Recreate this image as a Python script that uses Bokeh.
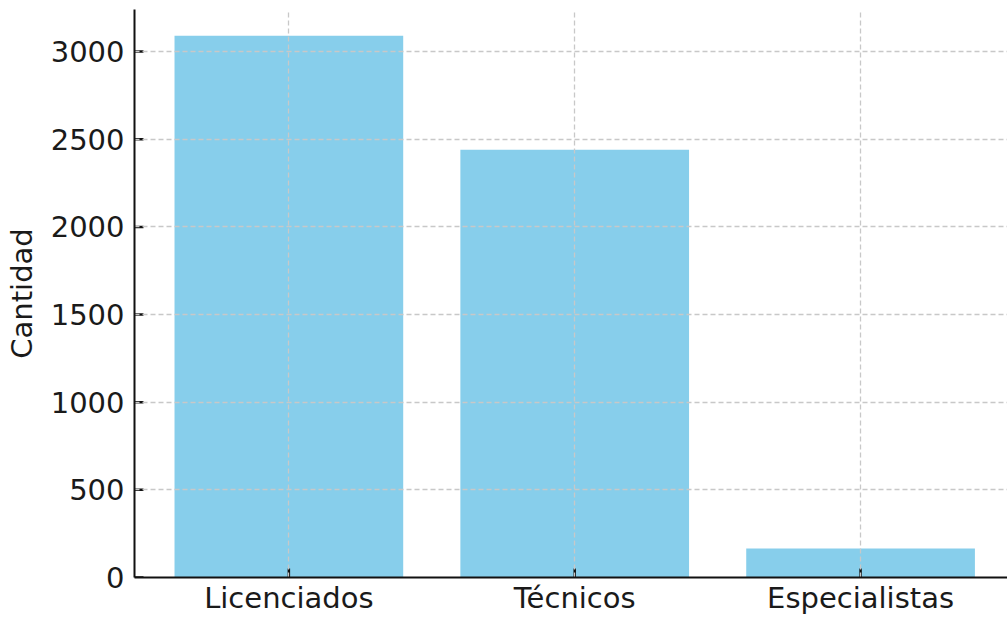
from bokeh.plotting import figure
from bokeh.models import FixedTicker, Range1d
from bokeh.embed import file_html
from bokeh.resources import INLINE

categories = ["Licenciados", "Técnicos", "Especialistas"]
cantidad = [3090, 2440, 165]
y_ticks = [0, 500, 1000, 1500, 2000, 2500, 3000]

xs = list(range(len(categories)))

X0, X1 = -0.54, 2.514
Y0, Y1 = 0, 3240
W, H = 1007, 617
BL, BT, BB = 134, 9, 40
TICK_PX = 9

p = figure(width=W, height=H, output_backend="svg", toolbar_location=None,
           x_range=Range1d(X0, X1), y_range=Range1d(Y0, Y1),
           min_border_left=BL, min_border_right=0, min_border_top=BT, min_border_bottom=BB)

p.vbar(x=xs, top=cantidad, width=0.8, color="#87CEEB", line_color=None)

FONT = "DejaVu Sans"
p.xaxis.ticker = FixedTicker(ticks=xs)
p.xaxis.major_label_overrides = {i: c for i, c in enumerate(categories)}
p.yaxis.ticker = FixedTicker(ticks=y_ticks)
p.yaxis.axis_label = "Cantidad"

for ax in (p.xaxis, p.yaxis):
    ax.major_label_text_font = FONT
    ax.major_label_text_font_size = "29px"
    ax.major_label_text_color = "#1a1a1a"
    ax.axis_label_text_font = FONT
    ax.axis_label_text_font_size = "29px"
    ax.axis_label_text_font_style = "normal"
    ax.axis_label_text_color = "#1a1a1a"
    ax.axis_line_color = "#111111"
    ax.axis_line_width = 2
    ax.major_tick_line_color = None
    ax.major_tick_in = 0
    ax.major_tick_out = 0
    ax.minor_tick_line_color = None

p.xaxis.major_label_standoff = 3
p.yaxis.major_label_standoff = 10
p.yaxis.axis_label_standoff = 9

for g in (p.xgrid, p.ygrid):
    g.grid_line_color = "#c8c8c8"
    g.grid_line_dash = "5 3"
    g.grid_line_width = 1.3
    g.level = "glyph"

# inward tick marks (matplotlib direction="in"), length in pixels converted to data units
frame_w = W - BL
frame_h = H - BT - BB
dx = TICK_PX * (X1 - X0) / frame_w
dy = TICK_PX * (Y1 - Y0) / frame_h
tick_y_x0 = [X0] * len(y_ticks)
tick_y_x1 = [X0 + dx] * len(y_ticks)
tick_x_y0 = [Y0] * len(xs)
tick_x_y1 = [Y0 + dy] * len(xs)
p.segment(x0=tick_y_x0, x1=tick_y_x1, y0=y_ticks, y1=y_ticks,
          line_color="#111111", line_width=2.5)
p.segment(x0=xs, x1=xs, y0=tick_x_y0, y1=tick_x_y1,
          line_color="#111111", line_width=2.5)

p.outline_line_color = None
p.background_fill_color = "white"
p.border_fill_color = "white"

open("out.html", "w").write(file_html(p, INLINE))
